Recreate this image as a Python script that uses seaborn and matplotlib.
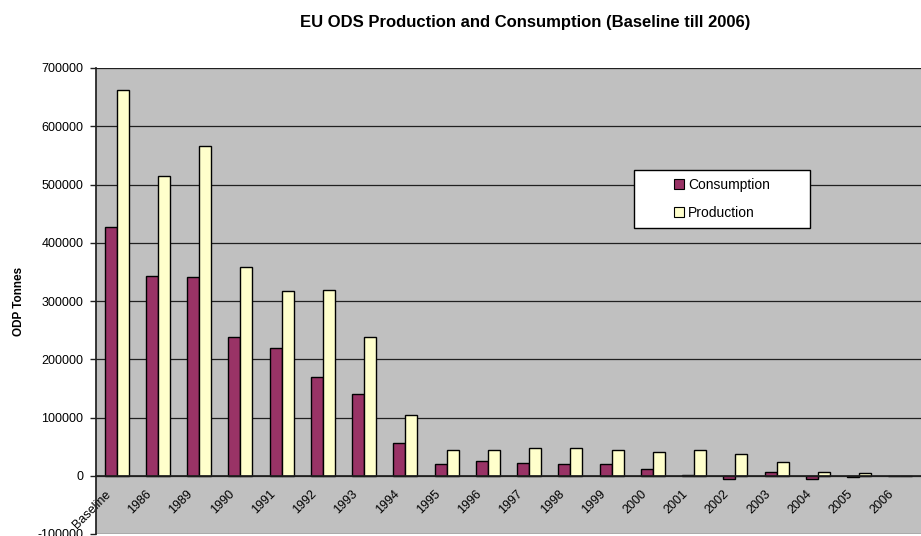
import matplotlib
matplotlib.use("Agg")
import matplotlib.pyplot as plt
import matplotlib.transforms as mtransforms
import seaborn as sns
import pandas as pd
import numpy as np
from matplotlib.patches import Patch, Rectangle

categories = ["Baseline", "1986", "1989", "1990", "1991", "1992", "1993", "1994",
              "1995", "1996", "1997", "1998", "1999", "2000", "2001", "2002",
              "2003", "2004", "2005", "2006"]
consumption = [427000, 343000, 342000, 239000, 219000, 170000, 140000, 57000,
               20000, 25000, 21700, 20000, 20000, 11400, 800, -6300,
               6900, -5000, -2300, 0]
production = [663000, 515000, 566000, 358000, 317000, 319000, 238000, 104000,
              44600, 44600, 48000, 47400, 45000, 40600, 45000, 37100,
              23400, 6900, 4600, 0]
series = ["Consumption", "Production"]
colors = ["#993366", "#FFFFCC"]

df = pd.DataFrame({
    "Year": categories * 2,
    "Value": consumption + production,
    "Series": [series[0]] * len(categories) + [series[1]] * len(categories),
})

sns.set_theme(style="white")
plt.rcParams["font.family"] = ["Liberation Sans", "DejaVu Sans"]

fig = plt.figure(figsize=(9.21, 5.36), dpi=100)
ax = fig.add_axes([96/921, 1-534/536, 825/921, (534-68)/536])
ax.set_facecolor("#C0C0C0")

sns.barplot(data=df, x="Year", y="Value", hue="Series", order=categories,
            hue_order=series, palette=colors, width=0.58, edgecolor="black",
            linewidth=1.0, saturation=1, ax=ax, legend=False, errorbar=None)

ax.set_ylim(-100000, 700000)
ax.set_xlim(-0.5, len(categories) - 0.5)
ax.set_yticks(np.arange(-100000, 700001, 100000))
ax.set_yticklabels([f"{v:d}" for v in range(-100000, 700001, 100000)], fontsize=9, color="black")
ax.yaxis.grid(True, color="#202020", linewidth=0.9)
ax.set_axisbelow(True)

# x axis at zero
ax.spines["bottom"].set_position(("data", 0))
ax.spines["bottom"].set_color("#202020")
ax.spines["left"].set_color("#202020")
ax.spines["top"].set_visible(False)
ax.spines["right"].set_visible(False)
ax.set_xticks(np.arange(len(categories)))
ax.set_xticks(np.arange(len(categories)) - 0.5, minor=True)
ax.tick_params(axis="x", which="major", length=0, pad=12)
ax.tick_params(axis="x", which="minor", length=4, direction="out", color="#202020", width=1)
ax.tick_params(axis="y", which="major", length=4, direction="out", color="#202020", width=1, left=True, pad=5)
ax.set_xticklabels(categories, rotation=45, ha="right", va="center",
                   rotation_mode="anchor", fontsize=9, color="black")
offset = mtransforms.ScaledTranslation(-8/100, 0, fig.dpi_scale_trans)
for lbl in ax.get_xticklabels():
    lbl.set_transform(lbl.get_transform() + offset)
ax.set_xlabel("")
ax.set_ylabel("ODP Tonnes", fontsize=8.5, fontweight="bold", labelpad=9, color="black")

fig.text(525/921, 1-22/536, "EU ODS Production and Consumption (Baseline till 2006)",
         ha="center", va="center", fontsize=12, fontweight="bold", color="black")

# legend box
x0, x1, y0, y1 = 634, 810, 170, 228
box = Rectangle(((x0-96)/825, (534-y1)/466), (x1-x0)/825, (y1-y0)/466,
                transform=ax.transAxes, facecolor="white", edgecolor="black",
                linewidth=1, zorder=5)
ax.add_patch(box)
handles = [Patch(facecolor=c, edgecolor="black", linewidth=0.8) for c in colors]
leg = ax.legend(handles, series, loc="center",
                bbox_to_anchor=(((x0+x1)/2-96)/825, (534-(y0+y1)/2)/466),
                frameon=False, fontsize=10,
                handlelength=0.7, handleheight=0.7, handletextpad=0.3,
                labelspacing=1.0, borderpad=0, borderaxespad=0)
leg.set_zorder(6)
for t in leg.get_texts():
    t.set_color("black")

fig.savefig("out.png", dpi=100)
